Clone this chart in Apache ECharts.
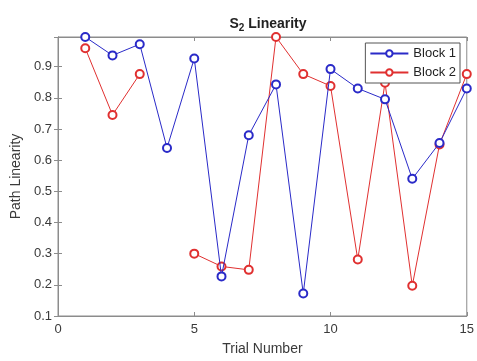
<!DOCTYPE html>
<html><head><meta charset="utf-8">
<script src="https://cdn.jsdelivr.net/npm/echarts@6/dist/echarts.min.js"></script>
<style>html,body{margin:0;padding:0;background:#fff}#c{width:477px;height:361px}</style>
</head><body><div id="c"></div>
<script>
const trials = [1,2,3,4,5,6,7,8,9,10,11,12,13,14,15];
const block1 = [0.995,0.936,0.972,0.639,0.926,0.227,0.680,0.843,0.172,0.892,0.830,0.795,0.540,0.655,0.830];
const block2 = [0.959,0.745,0.876,null,0.300,0.259,0.248,0.995,0.876,0.838,0.281,0.848,0.197,0.650,0.876];
const xTicks = [0,5,10,15];
const yTicks = [0.1,0.2,0.3,0.4,0.5,0.6,0.7,0.8,0.9];

const font = 'Liberation Sans, Arial, Helvetica, sans-serif';
const axisCol = '#8c8c8c';
const txtCol = '#3a3a3a';
const chart = echarts.init(document.getElementById('c'), null, {renderer:'canvas'});
const pair = (ys) => trials.map((t,i)=>[t, ys[i]]);
chart.setOption({
  animation:false,
  backgroundColor:'#fff',
  title:{text:'{a|S}{s|2}{a| Linearity}', left:263, top:10, textAlign:'center',
    textStyle:{rich:{a:{fontFamily:font,fontWeight:'bold',fontSize:14,color:'#222'},
      s:{fontFamily:font,fontWeight:'bold',fontSize:10,color:'#222',verticalAlign:'bottom',padding:[8,0,0,0]}}}},
  grid:{left:58,right:9,top:37,bottom:42,show:true,borderColor:axisCol,borderWidth:1},
  legend:{data:['Block 1','Block 2'],orient:'vertical',right:17,top:43,
    itemWidth:38,itemHeight:8,itemGap:6,padding:[4,4,4,4],
    borderColor:'#555',borderWidth:1,backgroundColor:'#fff',
    textStyle:{fontFamily:font,fontSize:13,color:'#222'}},
  xAxis:[{type:'value',min:0,max:15,interval:5,
    name:'Trial Number',nameLocation:'middle',nameGap:26,
    nameTextStyle:{fontFamily:font,fontSize:14,color:txtCol},
    axisLine:{show:true,lineStyle:{color:axisCol}},
    axisTick:{inside:true,length:4,lineStyle:{color:axisCol}},
    axisLabel:{fontFamily:font,fontSize:13,color:txtCol,margin:7,
      formatter:v=>xTicks.includes(v)?String(v):''},
    splitLine:{show:false}},
   {type:'value',position:'top',min:0,max:15,interval:5,
    axisLine:{show:true,lineStyle:{color:axisCol}},
    axisTick:{inside:true,length:4,lineStyle:{color:axisCol}},
    axisLabel:{show:false},splitLine:{show:false}}],
  yAxis:[{type:'value',min:0.1,max:0.995,interval:0.1,
    name:'Path Linearity',nameLocation:'middle',nameGap:32,
    nameTextStyle:{fontFamily:font,fontSize:14,color:txtCol},
    axisLine:{show:true,lineStyle:{color:axisCol}},
    axisTick:{inside:true,length:4,lineStyle:{color:axisCol}},
    axisLabel:{fontFamily:font,fontSize:13,color:txtCol,margin:6,showMaxLabel:false,
      formatter:v=>{const r=Math.round(v*10)/10;return yTicks.some(t=>Math.abs(t-v)<1e-6)?r.toFixed(1):'';}},
    splitLine:{show:false}},
   {type:'value',position:'right',min:0.1,max:0.995,interval:0.1,
    axisLine:{show:true,lineStyle:{color:axisCol}},
    axisTick:{inside:true,length:4,lineStyle:{color:axisCol}},
    axisLabel:{show:false},splitLine:{show:false}}],
  series:[
    {name:'Block 1',type:'line',data:pair(block1),symbol:'emptyCircle',symbolSize:8,
      color:'#2a2ac8',lineStyle:{width:1,color:'#2a2ac8'},itemStyle:{color:'#2a2ac8',borderWidth:1},z:3},
    {name:'Block 2',type:'line',data:pair(block2),symbol:'emptyCircle',symbolSize:8,
      color:'#e03030',lineStyle:{width:1,color:'#e03030'},itemStyle:{color:'#e03030',borderWidth:1},z:2}
  ]
});
</script></body></html>
